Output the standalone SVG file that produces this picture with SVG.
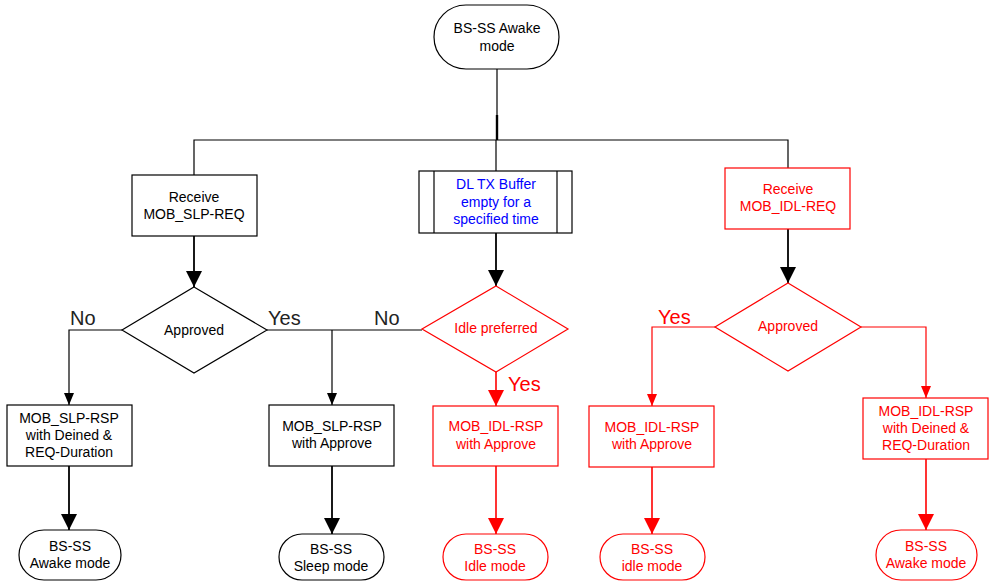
<svg xmlns="http://www.w3.org/2000/svg" width="989" height="584" viewBox="0 0 989 584">
  <style>
    .shape { fill: #ffffff; stroke-width: 1.2; }
    .blk { stroke: #000000; }
    .red { stroke: #ff0000; }
    text { font-family: "Liberation Sans", Arial, sans-serif; font-size: 14px; text-anchor: middle; }
    .tb { fill: #000000; }
    .tr { fill: #ff0000; }
    .tblue { fill: #0000ff; }
    .lbl { font-size: 20px; text-anchor: start; fill: #222222; }
    .lblr { font-size: 20px; text-anchor: start; fill: #ff0000; }
    .ln { fill: none; stroke: #000000; stroke-width: 1.2; }
    .lnt { fill: none; stroke: #000000; stroke-width: 1.8; }
    .lnr { fill: none; stroke: #ff0000; stroke-width: 1.2; }
    .lnrt { fill: none; stroke: #ff0000; stroke-width: 1.6; }
  </style>
  <defs>
    <marker id="ab" markerUnits="userSpaceOnUse" markerWidth="16" markerHeight="20" refX="16" refY="8" orient="auto">
      <path d="M0,0 L16,8 L0,16 Z" fill="#000000"/>
    </marker>
    <marker id="abs" markerUnits="userSpaceOnUse" markerWidth="12" markerHeight="12" refX="12" refY="5" orient="auto">
      <path d="M0,0 L12,5 L0,10 Z" fill="#000000"/>
    </marker>
    <marker id="ar" markerUnits="userSpaceOnUse" markerWidth="16" markerHeight="20" refX="16" refY="8" orient="auto">
      <path d="M0,0 L16,8 L0,16 Z" fill="#ff0000"/>
    </marker>
    <marker id="ars" markerUnits="userSpaceOnUse" markerWidth="12" markerHeight="12" refX="12" refY="5" orient="auto">
      <path d="M0,0 L12,5 L0,10 Z" fill="#ff0000"/>
    </marker>
  </defs>

  <!-- connectors -->
  <g id="connectors">
    <path class="ln" d="M497,69 V140"/>
    <path d="M497,115 V140" stroke="#000" stroke-width="2.4" fill="none"/>
    <path class="ln" d="M194,175 V140 H788 V168"/>
    <path class="ln" d="M496,140 V171"/>
    <path class="lnt" d="M194,236 V287" marker-end="url(#ab)"/>
    <path class="lnt" d="M496,233 V286" marker-end="url(#ab)"/>
    <path class="lnt" d="M788,229 V283" marker-end="url(#ab)"/>
    <path class="ln" d="M122,330 H69 V405" marker-end="url(#abs)"/>
    <path class="ln" d="M267,330 H422"/>
    <path class="ln" d="M332,330 V405" marker-end="url(#abs)"/>
    <path class="lnt" d="M69,466 V530" marker-end="url(#ab)"/>
    <path class="lnt" d="M332,466 V534" marker-end="url(#ab)"/>
    <path class="lnrt" d="M496,372 V406" marker-end="url(#ar)"/>
    <path class="lnrt" d="M496,466 V534" marker-end="url(#ar)"/>
    <path class="lnr" d="M715,327 H652 V406" marker-end="url(#ars)"/>
    <path class="lnr" d="M861,327 H926 V398" marker-end="url(#ars)"/>
    <path class="lnrt" d="M652,467 V534" marker-end="url(#ar)"/>
    <path class="lnrt" d="M926,459 V530" marker-end="url(#ar)"/>
  </g>

  <!-- branch labels -->
  <g id="labels">
    <text class="lbl" x="70" y="325">No</text>
    <text class="lbl" x="268" y="325">Yes</text>
    <text class="lbl" x="374" y="325">No</text>
    <text class="lblr" x="508" y="391">Yes</text>
    <text class="lblr" x="658" y="324">Yes</text>
  </g>

  <g id="start">
    <rect class="shape blk" x="434" y="5" width="125" height="64" rx="32" ry="32"/>
    <text class="tb" x="497" y="33">BS-SS Awake</text>
    <text class="tb" x="497" y="51">mode</text>
  </g>

  <g id="recv-slp">
    <rect class="shape blk" x="132" y="175" width="125" height="61"/>
    <text class="tb" x="194" y="202">Receive</text>
    <text class="tb" x="194" y="219">MOB_SLP-REQ</text>
  </g>

  <g id="dl-buffer">
    <rect class="shape blk" x="419" y="171" width="153" height="62"/>
    <line class="blk" x1="434" y1="171" x2="434" y2="233" stroke-width="1.2"/>
    <line class="blk" x1="557" y1="171" x2="557" y2="233" stroke-width="1.2"/>
    <text class="tblue" x="496" y="189">DL TX Buffer</text>
    <text class="tblue" x="496" y="207">empty for a</text>
    <text class="tblue" x="496" y="224">specified time</text>
  </g>

  <g id="recv-idl">
    <rect class="shape red" x="725" y="168" width="125" height="61"/>
    <text class="tr" x="788" y="194">Receive</text>
    <text class="tr" x="788" y="211">MOB_IDL-REQ</text>
  </g>

  <g id="approved-slp">
    <polygon class="shape blk" points="194,287 267,330 194,373 122,330"/>
    <text class="tb" x="194" y="335">Approved</text>
  </g>

  <g id="idle-preferred">
    <polygon class="shape red" points="496,286 568,329 496,372 422,329"/>
    <text class="tr" x="496" y="333">Idle preferred</text>
  </g>

  <g id="approved-idl">
    <polygon class="shape red" points="788,283 861,327 788,371 715,327"/>
    <text class="tr" x="788" y="331">Approved</text>
  </g>

  <g id="slp-denied">
    <rect class="shape blk" x="7" y="405" width="125" height="61"/>
    <text class="tb" x="69" y="423">MOB_SLP-RSP</text>
    <text class="tb" x="69" y="440">with Deined &amp;</text>
    <text class="tb" x="69" y="457">REQ-Duration</text>
  </g>

  <g id="slp-approve">
    <rect class="shape blk" x="269" y="405" width="125" height="61"/>
    <text class="tb" x="332" y="431">MOB_SLP-RSP</text>
    <text class="tb" x="332" y="448">with Approve</text>
  </g>

  <g id="idl-approve-1">
    <rect class="shape red" x="433" y="406" width="125" height="60"/>
    <text class="tr" x="496" y="431">MOB_IDL-RSP</text>
    <text class="tr" x="496" y="449">with Approve</text>
  </g>

  <g id="idl-approve-2">
    <rect class="shape red" x="589" y="406" width="125" height="61"/>
    <text class="tr" x="652" y="432">MOB_IDL-RSP</text>
    <text class="tr" x="652" y="449">with Approve</text>
  </g>

  <g id="idl-denied">
    <rect class="shape red" x="863" y="398" width="125" height="61"/>
    <text class="tr" x="926" y="416">MOB_IDL-RSP</text>
    <text class="tr" x="926" y="433">with Deined &amp;</text>
    <text class="tr" x="926" y="450">REQ-Duration</text>
  </g>

  <g id="end-awake">
    <rect class="shape blk" x="19" y="530" width="102" height="50" rx="25" ry="25"/>
    <text class="tb" x="70" y="551">BS-SS</text>
    <text class="tb" x="70" y="568">Awake mode</text>
  </g>

  <g id="end-sleep">
    <rect class="shape blk" x="279" y="534" width="105" height="46" rx="23" ry="23"/>
    <text class="tb" x="331" y="554">BS-SS</text>
    <text class="tb" x="331" y="571">Sleep mode</text>
  </g>

  <g id="end-idle-1">
    <rect class="shape red" x="443" y="534" width="105" height="46" rx="23" ry="23"/>
    <text class="tr" x="495" y="554">BS-SS</text>
    <text class="tr" x="495" y="571">Idle mode</text>
  </g>

  <g id="end-idle-2">
    <rect class="shape red" x="600" y="534" width="105" height="46" rx="23" ry="23"/>
    <text class="tr" x="652" y="554">BS-SS</text>
    <text class="tr" x="652" y="571">idle mode</text>
  </g>

  <g id="end-awake-red">
    <rect class="shape red" x="876" y="530" width="101" height="50" rx="25" ry="25"/>
    <text class="tr" x="926" y="551">BS-SS</text>
    <text class="tr" x="926" y="568">Awake mode</text>
  </g>
</svg>
